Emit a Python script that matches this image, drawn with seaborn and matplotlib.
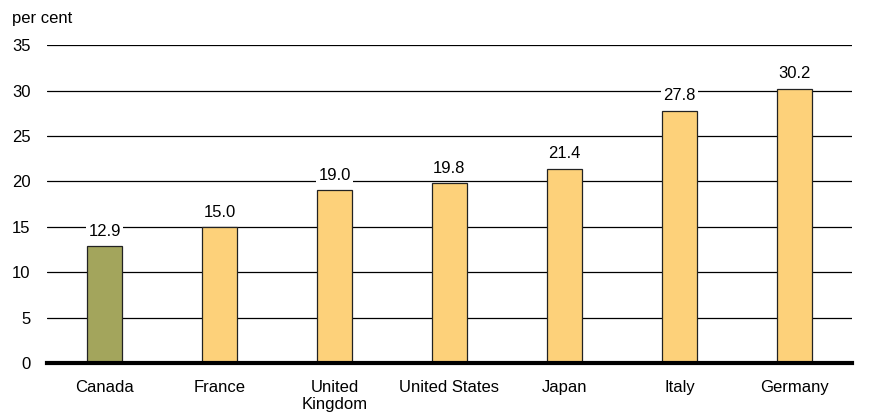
import seaborn as sns
import pandas as pd
import matplotlib.pyplot as plt

# chart values
countries = ["Canada", "France", "United\nKingdom", "United States", "Japan", "Italy", "Germany"]
values = [12.9, 15.0, 19.0, 19.8, 21.4, 27.8, 30.2]
bar_colors = ["#A3A55C", "#FDD17A", "#FDD17A", "#FDD17A", "#FDD17A", "#FDD17A", "#FDD17A"]

df = pd.DataFrame({"Country": countries, "Value": values})

sns.set_style("white")
plt.rcParams["font.family"] = ["Liberation Sans", "DejaVu Sans"]
plt.rcParams["text.color"] = "black"

fig = plt.figure(figsize=(8.71, 4.18), dpi=100)
ax = fig.add_axes([0.054, 0.1316, 0.924, 0.7604])

sns.barplot(data=df, x="Country", y="Value", hue="Country", palette=bar_colors,
            legend=False, width=0.31, edgecolor="#222222", linewidth=0.9,
            saturation=1, ax=ax, zorder=3)

ax.set_ylim(0, 35)
ax.set_xlim(-0.5, 6.5)
ax.set_yticks(range(0, 36, 5))
ax.yaxis.grid(True, color="black", linewidth=0.9)
ax.set_axisbelow(True)
ax.set_xlabel("")
ax.set_ylabel("")
for s in ["top", "right", "left"]:
    ax.spines[s].set_visible(False)
ax.spines["bottom"].set_linewidth(3)
ax.spines["bottom"].set_color("black")
ax.spines["bottom"].set_zorder(5)
ax.tick_params(axis="both", length=0, labelsize=12, colors="black")
ax.tick_params(axis="y", pad=12)
ax.tick_params(axis="x", pad=12)

for i, v in enumerate(values):
    ax.text(i, v + 0.8, f"{v:.1f}", ha="center", va="bottom", fontsize=12, color="black",
            bbox=dict(facecolor="white", edgecolor="none", pad=1.5), zorder=4)

fig.text(12 / 871, 1 - 18 / 418, "per cent", fontsize=12, va="center", ha="left", color="black")

plt.savefig("out.png", dpi=100)
